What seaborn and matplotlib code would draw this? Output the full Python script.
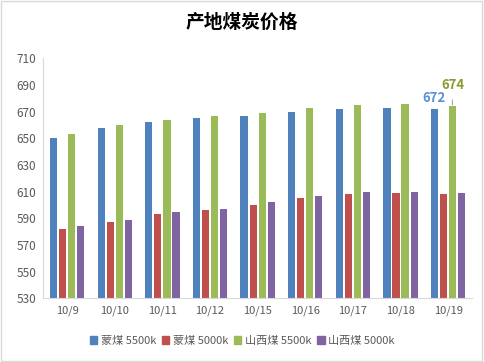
import pandas as pd
import matplotlib.pyplot as plt
import matplotlib.patches as mpatches
import seaborn as sns

dates = ['10/9', '10/10', '10/11', '10/12', '10/15', '10/16', '10/17', '10/18', '10/19']
series_names = ['蒙煤 5500k', '蒙煤 5000k', '山西煤 5500k', '山西煤 5000k']
meng_5500 = [650, 658, 662, 665, 667, 670, 672, 673, 672]
meng_5000 = [582, 587, 593, 596, 600, 605, 608, 609, 608]
shanxi_5500 = [653, 660, 664, 667, 669, 673, 675, 676, 674]
shanxi_5000 = [584, 589, 595, 597, 602, 607, 610, 610, 609]
colors = ['#4f81bd', '#c0504d', '#9bbb59', '#8064a2']
y_ticks = list(range(530, 711, 20))

rows = []
for name, vals in zip(series_names, [meng_5500, meng_5000, shanxi_5500, shanxi_5000]):
    for d, v in zip(dates, vals):
        rows.append([d, name, v])
df = pd.DataFrame(rows, columns=['date', 'series', 'price'])

sns.set_style('white')
plt.rcParams['font.family'] = ['Noto Sans CJK SC', 'DejaVu Sans']

fig = plt.figure(figsize=(4.84, 3.62), dpi=100)
ax = fig.add_axes([43.3 / 484, 1 - 298.3 / 362, (472 - 43.3) / 484, 240 / 362])

sns.barplot(data=df, x='date', y='price', hue='series', order=dates, hue_order=series_names,
            palette=colors, saturation=1, width=0.76, gap=0.2, linewidth=0,
            ax=ax, legend=False)

ax.set_ylim(530, 710)
ax.set_xlim(-0.5, len(dates) - 0.5)
ax.set_yticks(y_ticks)
ax.set_xlabel(None)
ax.set_ylabel(None)
ax.tick_params(axis='y', direction='in', length=4, color='#d9d9d9', labelsize=8.5,
               labelcolor='#595959', pad=5)
ax.tick_params(axis='x', length=0, labelsize=8, labelcolor='#595959', pad=5)
ax.set_xticks([i + 0.5 for i in range(-1, len(dates))], minor=True)
ax.tick_params(axis='x', which='minor', direction='out', length=4, color='#d9d9d9')
for s in ['top', 'right']:
    ax.spines[s].set_visible(False)
for s in ['left', 'bottom']:
    ax.spines[s].set_color('#d9d9d9')

# last-day labels
last = len(dates) - 1
ax.annotate(str(meng_5500[-1]), xy=(last - 0.3, meng_5500[-1]), xytext=(0, 3),
            textcoords='offset points', ha='center', va='bottom', fontsize=9.5,
            fontweight='bold', color='#5b8fd6')
ax.annotate(str(shanxi_5500[-1]), xy=(last + 0.09, shanxi_5500[-1]), xytext=(0, 10),
            textcoords='offset points', ha='center', va='bottom', fontsize=9.5,
            fontweight='bold', color='#8a9a2e',
            arrowprops=dict(arrowstyle='-', color='#a6a6a6', lw=0.8, shrinkA=3, shrinkB=1))

fig.text(0.5, 1 - 22 / 362, '产地煤炭价格', ha='center', va='center', fontsize=13.5,
         fontweight='bold', color='#000000')

handles = [mpatches.Patch(color=c, label=n) for c, n in zip(colors, series_names)]
fig.legend(handles=handles, loc='center', bbox_to_anchor=(0.5, 1 - 341 / 362), ncol=4,
           frameon=False, fontsize=8, handlelength=0.7, handleheight=0.7,
           handletextpad=0.3, columnspacing=0.5, labelcolor='#595959')

fig.patches.append(mpatches.Rectangle((0.002, 0.003), 0.994, 0.994, transform=fig.transFigure,
                                      fill=False, edgecolor='#d9d9d9', lw=1))

plt.savefig('out.png', dpi=100)
